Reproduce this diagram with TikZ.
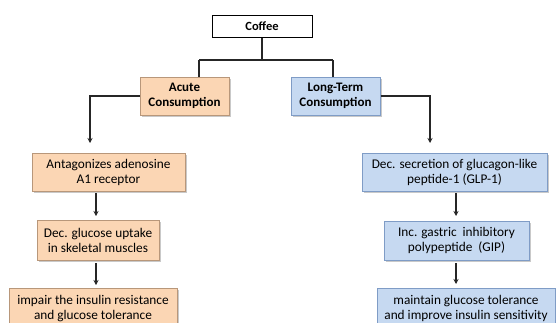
\documentclass[tikz,border=0pt]{standalone}
\usepackage{fontspec}
\setmainfont{Carlito}
\usetikzlibrary{arrows.meta,shadows}
\definecolor{orfill}{HTML}{FBD6B4}
\definecolor{ordraw}{HTML}{B8977A}
\definecolor{blfill}{HTML}{C6D9F1}
\definecolor{bldraw}{HTML}{7F9CC6}
\tikzset{
  base/.style={rectangle, inner sep=0pt, align=center, font=\fontsize{13.3}{15}\selectfont, line width=1pt},
  orbox/.style={base, fill=orfill, draw=ordraw, drop shadow={shadow xshift=1.5pt, shadow yshift=-1.5pt, fill=black!35, opacity=0.6}},
  blbox/.style={base, fill=blfill, draw=bldraw, drop shadow={shadow xshift=1.5pt, shadow yshift=-1.5pt, fill=black!35, opacity=0.6}},
  conn/.style={line width=1.3pt, draw=black!85},
  arr/.style={conn, -{Stealth[length=5pt,width=5pt]}},
  headtxt/.style={font=\fontsize{13}{15}\selectfont\bfseries},
}
\begin{document}
\begin{tikzpicture}[x=1pt,y=-1pt]
\useasboundingbox (0,0) rectangle (556,322);
\clip (0,0) rectangle (556,322);
\fill[white] (0,0) rectangle (556,322);
% boxes
\node[base, draw=black, fill=white, minimum width=100pt, minimum height=22pt, font=\fontsize{12.5}{14}\selectfont\bfseries] (coffee) at (262,26) {Coffee};
\node[orbox, minimum width=89pt, minimum height=38pt, headtxt] (acute) at (184.5,96) {Acute\\Consumption};
\node[blbox, minimum width=89pt, minimum height=38pt, headtxt] (long) at (335.5,96) {Long-Term\\Consumption};
\node[orbox, minimum width=153pt, minimum height=38pt] (ant) at (108.5,172) {Antagonizes adenosine\\A1 receptor};
\node[orbox, minimum width=122pt, minimum height=40pt] (decg) at (98,240) {Dec. glucose uptake\\in skeletal muscles};
\node[orbox, minimum width=168pt, minimum height=40pt, anchor=north] (imp) at (93,288) {impair the insulin resistance\\and glucose tolerance};
\node[blbox, minimum width=185pt, minimum height=38pt] (decs) at (454.5,172) {Dec. secretion of glucagon-like\\peptide-1 (GLP-1)};
\node[blbox, minimum width=145pt, minimum height=39pt] (inc) at (456.5,240.5) {Inc. gastric\ \ inhibitory\\polypeptide\ \ (GIP)};
\node[blbox, minimum width=178pt, minimum height=40pt, anchor=north] (maint) at (466,288) {maintain glucose tolerance\\and improve insulin sensitivity};
% connectors
\coordinate (j) at (262,60);
\coordinate (ja) at (199,60);
\coordinate (jl) at (333,60);
\draw[conn] (coffee.south) -- (j);
\draw[conn] (ja) -- (jl);
\draw[conn] (ja) -- (ja |- acute.north);
\draw[conn] (jl) -- (jl |- long.north);
\coordinate (la) at (90,143);
\coordinate (ra) at (430,143);
\draw[arr] (acute.west) -| (la);
\draw[arr] (long.east) -| (ra);
\coordinate (a1s) at (96,193);
\coordinate (a1e) at (96,216);
\coordinate (a2s) at (96,263);
\coordinate (a2e) at (96,285);
\draw[arr] (a1s) -- (a1e);
\draw[arr] (a2s) -- (a2e);
\coordinate (b1s) at (456,193);
\coordinate (b1e) at (456,216);
\coordinate (b2s) at (456,263);
\coordinate (b2e) at (456,284);
\draw[arr] (b1s) -- (b1e);
\draw[arr] (b2s) -- (b2e);
\end{tikzpicture}
\end{document}
